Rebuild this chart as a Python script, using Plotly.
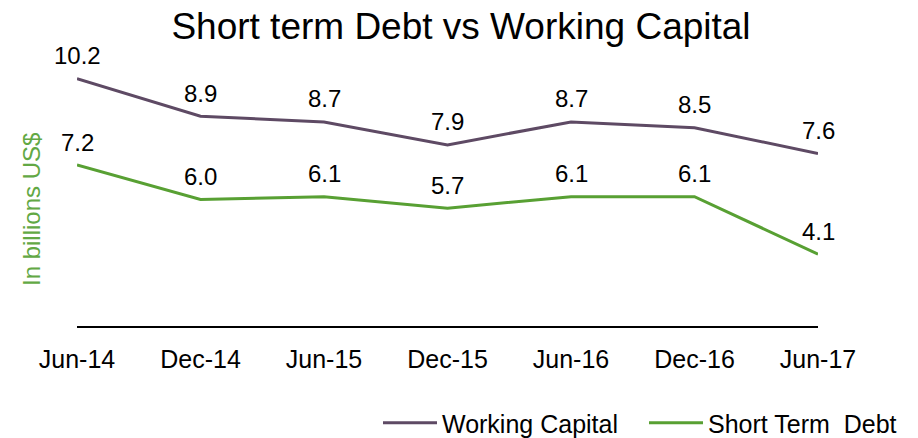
import plotly.graph_objects as go

# Half-yearly periods and values (billions US$)
periods = ["Jun-14", "Dec-14", "Jun-15", "Dec-15", "Jun-16", "Dec-16", "Jun-17"]
working_capital = [10.2, 8.9, 8.7, 7.9, 8.7, 8.5, 7.6]
short_term_debt = [7.2, 6.0, 6.1, 5.7, 6.1, 6.1, 4.1]

PURPLE = "#5E4A64"
GREEN = "#58A033"
FONT = "Liberation Sans, Arial, sans-serif"

# Plot-area geometry in pixels
L, R, T, B = 77, 100, 40, 112
W, H = 918, 438
PW, PH = W - L - R, H - T - B

x_idx = list(range(len(periods)))

fig = go.Figure()
fig.add_trace(go.Scatter(
    x=x_idx, y=working_capital, mode="lines", name="Working Capital",
    line=dict(color=PURPLE, width=3), hoverinfo="skip",
))
fig.add_trace(go.Scatter(
    x=x_idx, y=short_term_debt, mode="lines", name="Short Term  Debt",
    line=dict(color=GREEN, width=3), hoverinfo="skip",
))

# Value labels above each point
for series in (working_capital, short_term_debt):
    for i, v in enumerate(series):
        fig.add_annotation(
            x=i, y=v, text=f"{v:.1f}", showarrow=False,
            yshift=23, font=dict(family=FONT, size=24, color="#000000"),
        )

# Rotated y-axis caption
fig.add_annotation(
    xref="paper", yref="paper", x=(31 - L) / PW, y=(H - B - 210) / PH,
    text="In billions US$", textangle=-90, showarrow=False,
    xanchor="center", yanchor="middle",
    font=dict(family=FONT, size=24, color="#62A844"),
)

fig.update_layout(
    width=W, height=H,
    margin=dict(l=L, r=R, t=T, b=B, autoexpand=False),
    paper_bgcolor="white", plot_bgcolor="white",
    title=dict(
        text="Short term Debt vs Working Capital",
        x=461 / W, xanchor="center", y=1 - 26 / H, yanchor="middle",
        font=dict(family=FONT, size=37, color="#000000"),
    ),
    showlegend=True,
    legend=dict(
        orientation="h", x=(378 - L) / PW, xanchor="left",
        y=(H - B - 423) / PH, yanchor="middle",
        font=dict(family=FONT, size=25, color="#000000"),
        bgcolor="rgba(0,0,0,0)", itemwidth=54, tracegroupgap=0,
        entrywidth=197, entrywidthmode="pixels",
    ),
    xaxis=dict(
        range=[0, 6], tickmode="array", tickvals=x_idx, ticktext=periods,
        showgrid=False, zeroline=False, showline=True,
        linecolor="#000000", linewidth=2, ticks="", ticklen=0,
        ticklabelstandoff=10,
        tickfont=dict(family=FONT, size=25, color="#000000"),
        fixedrange=True,
    ),
    yaxis=dict(
        range=[1.6, 11.55], showgrid=False, zeroline=False,
        showline=False, showticklabels=False, ticks="",
        fixedrange=True,
    ),
)

fig.write_html("out.html")
